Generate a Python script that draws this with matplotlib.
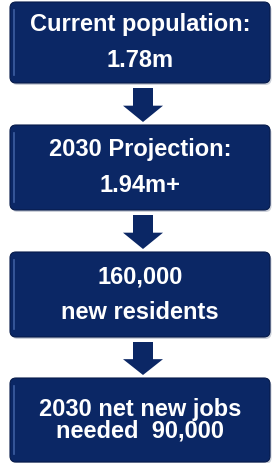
import matplotlib
matplotlib.use("Agg")
import matplotlib.pyplot as plt
from matplotlib.patches import FancyBboxPatch, Polygon

# box texts, top to bottom
labels = [
    "Current population:\n1.78m",
    "2030 Projection:\n1.94m+",
    "160,000\nnew residents",
    "2030 net new jobs\nneeded  90,000",
]
line_spacing = [1.72, 1.72, 1.72, 0.9]

# layout in pixels
box_top = [2, 125, 252, 378]
box_bottom = [83, 210, 337, 462]
box_left, box_right = 10, 270
navy = "#0b2765"
edge = "#061a4a"

fig = plt.figure(figsize=(2.73, 4.63), dpi=100)
ax = fig.add_axes([0, 0, 1, 1])
ax.set_xlim(0, 273)
ax.set_ylim(463, 0)
ax.axis("off")

for i, text in enumerate(labels):
    top, bottom = box_top[i], box_bottom[i]
    # soft shadow
    ax.add_patch(FancyBboxPatch((box_left + 1.5, top + 2), box_right - box_left, bottom - top,
                                boxstyle="round,pad=0,rounding_size=6", fc="#9aa3b5", ec="none", alpha=0.5))
    ax.add_patch(FancyBboxPatch((box_left, top), box_right - box_left, bottom - top,
                                boxstyle="round,pad=0,rounding_size=6", fc=navy, ec=edge, lw=0.8))
    # light highlight along the left side
    ax.plot([box_left + 4, box_left + 4], [top + 8, bottom - 8], color="#4a6cb0", lw=1.2, alpha=0.8)
    ax.text((box_left + box_right) / 2, (top + bottom) / 2, text, ha="center", va="center",
            color="white", fontsize=17, fontweight="bold", family="Liberation Sans",
            linespacing=line_spacing[i])

# down arrows between boxes
cx = 143
for i in range(len(labels) - 1):
    y0 = box_bottom[i] + 5
    y1 = box_top[i + 1] - 3
    yh = y0 + (y1 - y0) * 0.52
    pts = [(cx - 10, y0), (cx + 10, y0), (cx + 10, yh), (cx + 20, yh),
           (cx, y1), (cx - 20, yh), (cx - 10, yh)]
    ax.add_patch(Polygon(pts, closed=True, fc=navy, ec="none"))

fig.savefig("out.png", dpi=100)
